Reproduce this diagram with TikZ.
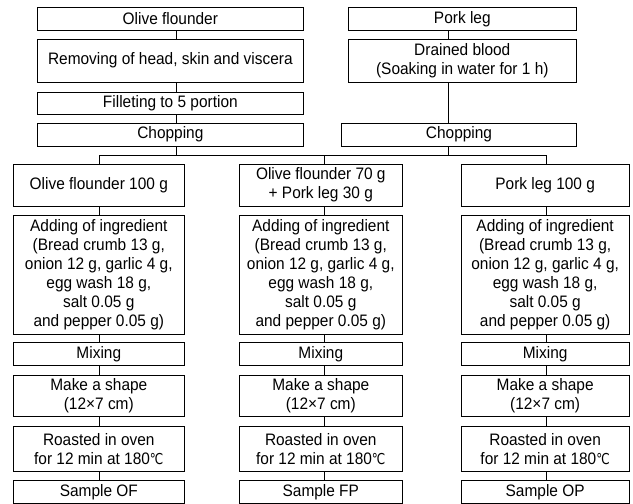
\documentclass[tikz,border=0pt]{standalone}
\usepackage{fontspec}
\setmainfont[FakeStretch=0.93]{Liberation Sans}
\newfontfamily\symfont[FakeStretch=0.8]{DejaVu Sans}
\newcommand{\degc}{{\symfont\fontsize{15}{19}\selectfont ℃}}
\tikzset{
  box/.style={draw, line width=0.9pt, inner sep=0pt, align=center,
    font=\fontsize{16.6}{19}\selectfont},
  conn/.style={line width=0.9pt},
  colA/.style={box, minimum width=171pt},
  colB/.style={box, minimum width=163pt},
  colC/.style={box, minimum width=167.7pt},
}
\begin{document}
\begin{tikzpicture}[x=1pt,y=-1pt]
\useasboundingbox (0,0) rectangle (633,504);
% top left column
\node[box, minimum width=266.7pt, minimum height=23pt] (of) at (170.35,18.8) {Olive flounder};
\node[box, minimum width=266.7pt, minimum height=42.7pt] (rem) at (170.35,60.65) {Removing of head, skin and viscera};
\node[box, minimum width=266.7pt, minimum height=22pt] (fil) at (170.35,103) {Filleting to 5 portion};
\node[box, minimum width=266.7pt, minimum height=22.7pt] (chl) at (170.35,134.65) {Chopping};
% top right column
\node[box, minimum width=228pt, minimum height=23pt] (pork) at (462.3,18.8) {Pork leg};
\node[box, minimum width=228pt, minimum height=42.7pt] (drain) at (462.3,60.65) {Drained blood\\(Soaking in water for 1 h)};
\node[box, minimum width=234.6pt, minimum height=22.7pt] (chr) at (459,134.65) {Chopping};
% guide coordinates
\coordinate (xl) at (176.3,0);
\coordinate (xr) at (448.3,0);
\coordinate (hy) at (0,155.3);
\coordinate (xa) at (99.3,0);
\coordinate (xb) at (324.7,0);
\coordinate (xc) at (546.3,0);
% top connectors
\draw[conn] (of.south -| xl) -- (rem.north -| xl);
\draw[conn] (rem.south -| xl) -- (fil.north -| xl);
\draw[conn] (fil.south -| xl) -- (chl.north -| xl);
\draw[conn] (pork.south -| xr) -- (drain.north -| xr);
\draw[conn] (drain.south -| xr) -- (chr.north -| xr);
\draw[conn] (chl.south -| xl) -- (hy -| xl);
\draw[conn] (chr.south -| xr) -- (hy -| xr);
\draw[conn] (hy -| xa) -- (hy -| xc);
% three columns
\foreach \c/\x/\s/\lab/\sm in {a/98.8/colA/{Olive flounder 100 g}/OF, b/320.8/colB/{Olive flounder 70 g\\+ Pork leg 30 g}/FP, c/545.15/colC/{Pork leg 100 g}/OP}{
  \node[\s, minimum height=41.7pt] (\c1) at (\x,185.15) {\lab};
  \node[\s, minimum height=119pt] (\c2) at (\x,274.8) {Adding of ingredient\\(Bread crumb 13 g,\\onion 12 g, garlic 4 g,\\egg wash 18 g,\\salt 0.05 g\\and pepper 0.05 g)};
  \node[\s, minimum height=23pt] (\c3) at (\x,353.8) {Mixing};
  \node[\s, minimum height=41.4pt] (\c4) at (\x,396) {Make a shape\\(12×7 cm)};
  \node[\s, minimum height=45.7pt] (\c5) at (\x,448.85) {Roasted in oven\\for 12 min at 180\degc};
  \node[\s, minimum height=23pt] (\c6) at (\x,491.8) {Sample \sm};
}
\foreach \c in {a,b,c}{
  \draw[conn] (hy -| x\c) -- (\c1.north -| x\c);
  \draw[conn] (\c1.south -| x\c) -- (\c2.north -| x\c);
  \draw[conn] (\c2.south -| x\c) -- (\c3.north -| x\c);
  \draw[conn] (\c3.south -| x\c) -- (\c4.north -| x\c);
  \draw[conn] (\c4.south -| x\c) -- (\c5.north -| x\c);
  \draw[conn] (\c5.south -| x\c) -- (\c6.north -| x\c);
}
\end{tikzpicture}
\end{document}
